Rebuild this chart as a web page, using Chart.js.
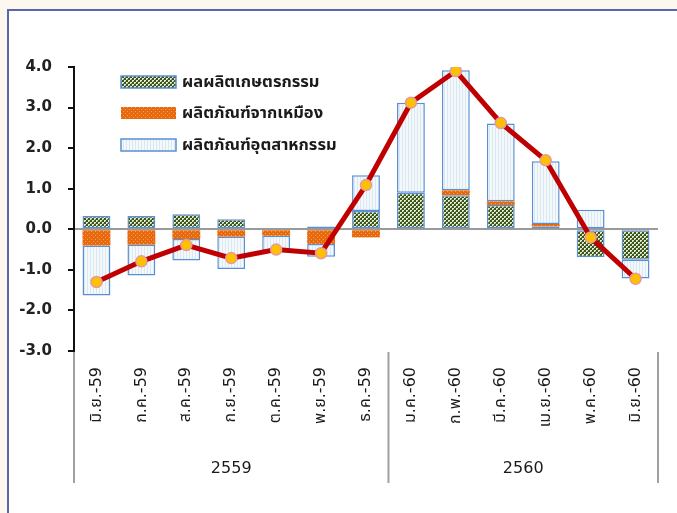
<!DOCTYPE html>
<html>
<head>
<meta charset="utf-8">
<script src="https://cdn.jsdelivr.net/npm/chart.js@4/dist/chart.umd.min.js"></script>
<style>
  html, body { margin:0; padding:0; width:677px; height:513px; overflow:hidden; background:#fdf8ef; }
  #frame { position:absolute; left:7px; top:9px; width:670px; height:504px; box-sizing:border-box; background:#fff;
           border-left:2px solid #5a66aa; border-top:2px solid #5a66aa; }
  #wrap { position:absolute; left:0; top:0; width:677px; height:513px; }
</style>
</head>
<body>
<div id="frame"></div>
<div id="wrap"><canvas id="c" width="677" height="513"></canvas></div>
<script>
// ---- data ----
const categories = ['มิ.ย.-59','ก.ค.-59','ส.ค.-59','ก.ย.-59','ต.ค.-59','พ.ย.-59','ธ.ค.-59',
                    'ม.ค.-60','ก.พ.-60','มี.ค.-60','เม.ย.-60','พ.ค.-60','มิ.ย.-60'];
const groups = [{label:'2559', from:0, to:6}, {label:'2560', from:7, to:12}];
const seriesNames = ['ผลผลิตเกษตรกรรม','ผลิตภัณฑ์จากเหมือง','ผลิตภัณฑ์อุตสาหกรรม'];
const agriculture = [0.33, 0.33, 0.37, 0.25, 0.03, 0.07, 0.45, 0.90, 0.84, 0.60, 0.07, -0.69, -0.75];
const mining      = [-0.40, -0.38, -0.24, -0.18, -0.16, -0.36, -0.20, 0.00, 0.12, 0.09, 0.06, 0.00, 0.00];
const industry    = [-1.23, -0.76, -0.53, -0.80, -0.37, -0.32, 0.88, 2.22, 2.96, 1.92, 1.55, 0.48, -0.46];
const total       = [-1.30, -0.79, -0.39, -0.71, -0.50, -0.59, 1.09, 3.12, 3.90, 2.62, 1.70, -0.20, -1.22];
const yTicks = [-3, -2, -1, 0, 1, 2, 3, 4];

const THAI = "'DejaVu Sans', Tahoma, 'Noto Sans Thai', Loma, Garuda, sans-serif";

// ---- patterns ----
function makePattern(w, h, draw) {
  const c = document.createElement('canvas'); c.width = w; c.height = h;
  const g = c.getContext('2d'); draw(g);
  return document.getElementById('c').getContext('2d').createPattern(c, 'repeat');
}
const greenPat = makePattern(4, 4, g => {
  g.fillStyle = '#3a5517'; g.fillRect(0,0,4,4);
  g.fillStyle = '#e4ebd6'; g.fillRect(0,0,2,2); g.fillRect(2,2,2,2);
  g.fillStyle = '#7d9160'; g.fillRect(1,1,1,1); g.fillRect(3,3,1,1);
});
const orangePat = makePattern(4, 4, g => {
  g.fillStyle = '#e8690c'; g.fillRect(0,0,4,4);
  g.fillStyle = '#f3a066'; g.fillRect(1,1,1,1); g.fillRect(3,3,1,1);
});
const bluePat = makePattern(3, 3, g => {
  g.fillStyle = '#f3f8fb'; g.fillRect(0,0,3,3);
  g.fillStyle = '#dbe8f1'; g.fillRect(0,0,1,3);
});
const fills = [greenPat, orangePat, bluePat];
const borders = ['#5b8fd3', 'rgba(0,0,0,0)', '#5b8fd3'];

// ---- plugins ----
const legendPlugin = {
  id: 'insideLegend',
  afterDraw(chart) {
    const ctx = chart.ctx, a = chart.chartArea;
    const x0 = a.left + 47, ys = [a.top + 15, a.top + 46, a.top + 78];
    ctx.save();
    seriesNames.forEach((name, i) => {
      const y = ys[i];
      ctx.fillStyle = fills[i];
      ctx.fillRect(x0, y - 6, 55, 12);
      if (i !== 1) { ctx.strokeStyle = borders[i]; ctx.lineWidth = 1.5; ctx.strokeRect(x0, y - 6, 55, 12); }
      ctx.fillStyle = '#1a1a1a';
      ctx.font = 'bold 16.5px ' + THAI;
      ctx.textAlign = 'left'; ctx.textBaseline = 'middle';
      ctx.fillText(name, x0 + 61, y + 1);
    });
    ctx.restore();
  }
};
const groupPlugin = {
  id: 'groups',
  afterDraw(chart) {
    const ctx = chart.ctx, xs = chart.scales.x, a = chart.chartArea;
    const half = (xs.getPixelForValue(1) - xs.getPixelForValue(0)) / 2;
    const yTop = a.bottom + 1, yBot = 483;
    ctx.save();
    ctx.strokeStyle = '#a0a0a0'; ctx.lineWidth = 2;
    const edges = [xs.getPixelForValue(0) - half];
    groups.forEach(gp => edges.push(xs.getPixelForValue(gp.to) + half));
    edges.forEach(x => { ctx.beginPath(); ctx.moveTo(x, yTop); ctx.lineTo(x, yBot); ctx.stroke(); });
    ctx.fillStyle = '#1a1a1a'; ctx.font = '16px ' + THAI; ctx.textAlign = 'center'; ctx.textBaseline = 'middle';
    groups.forEach(gp => {
      const x = (xs.getPixelForValue(gp.from) + xs.getPixelForValue(gp.to)) / 2;
      ctx.fillText(gp.label, x, 469);
    });
    ctx.restore();
  }
};

const datasets = [0,1,2].map(i => ({
  type: 'bar',
  label: seriesNames[i],
  data: [agriculture, mining, industry][i],
  backgroundColor: fills[i],
  borderColor: borders[i],
  borderWidth: i === 1 ? 0 : 1.5,
  borderSkipped: false,
  stack: 'bars',
  order: 2
}));
datasets.push({
  type: 'line',
  label: 'รวม',
  data: total,
  borderColor: '#c00000',
  borderWidth: 5,
  pointRadius: 5.5,
  pointBackgroundColor: '#ffc000',
  pointBorderColor: '#e59a9a',
  pointBorderWidth: 1.5,
  tension: 0,
  stack: 'line',
  order: 1
});

new Chart(document.getElementById('c'), {
  data: { labels: categories, datasets },
  options: {
    responsive: false,
    animation: false,
    layout: { padding: { left: 0, right: 19, top: 67, bottom: 0 } },
    plugins: { legend: { display: false }, tooltip: { enabled: false } },
    datasets: { bar: { categoryPercentage: 1, barPercentage: 0.62 } },
    scales: {
      x: {
        stacked: true,
        offset: true,
        grid: { display: false, drawTicks: false },
        border: { display: false },
        ticks: {
          minRotation: 90, maxRotation: 90, padding: 16, autoSkip: false,
          color: '#1a1a1a', font: { family: THAI, size: 16 }
        },
        afterFit(s) { s.height = 162; }
      },
      y: {
        stacked: true,
        min: -3, max: 4,
        afterBuildTicks(s) { s.ticks = yTicks.map(v => ({ value: v })); },
        grid: {
          drawOnChartArea: true,
          color: ctx => (ctx.tick && ctx.tick.value === 0) ? '#9a9a9a' : 'rgba(0,0,0,0)',
          lineWidth: 2,
          drawTicks: true, tickLength: 6, tickColor: '#111', tickWidth: 2
        },
        border: { display: true, color: '#111', width: 2 },
        ticks: {
          padding: 16, color: '#222',
          font: { family: "'DejaVu Sans', sans-serif", size: 15, weight: 'bold' },
          callback: v => Number(v).toFixed(1)
        },
        afterFit(s) { s.width = 74; }
      }
    }
  },
  plugins: [legendPlugin, groupPlugin]
});
</script>
</body>
</html>
